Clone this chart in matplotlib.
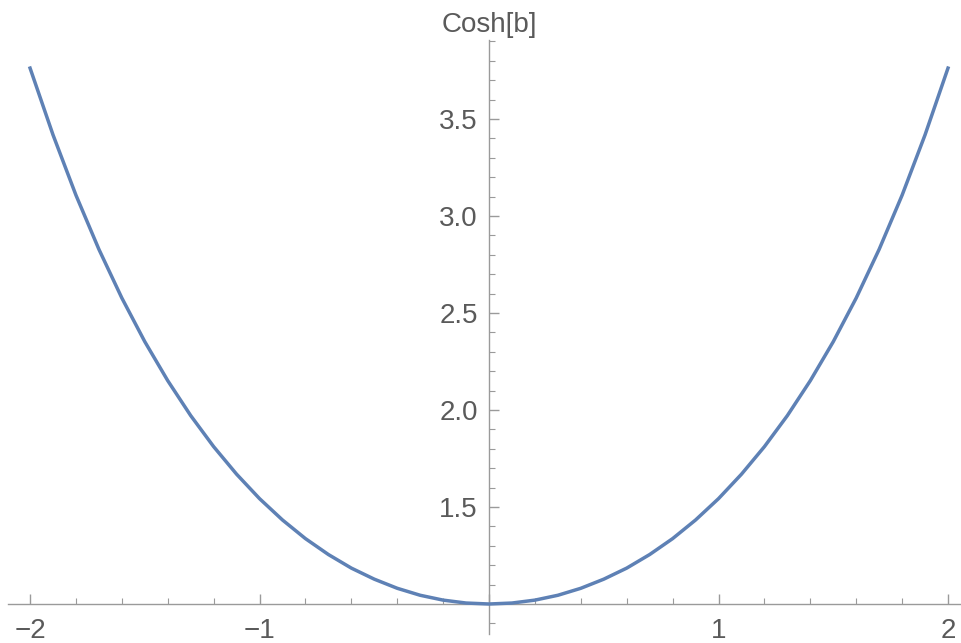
import matplotlib.pyplot as plt
from matplotlib.ticker import FixedLocator

plt.rcParams['font.family'] = ['Liberation Sans', 'DejaVu Sans']

b = [-2.0, -1.9, -1.8, -1.7, -1.6, -1.5, -1.4, -1.3, -1.2, -1.1, -1.0,
     -0.9, -0.8, -0.7, -0.6, -0.5, -0.4, -0.3, -0.2, -0.1, 0.0,
     0.1, 0.2, 0.3, 0.4, 0.5, 0.6, 0.7, 0.8, 0.9, 1.0,
     1.1, 1.2, 1.3, 1.4, 1.5, 1.6, 1.7, 1.8, 1.9, 2.0]
cosh_b = [3.762, 3.418, 3.107, 2.828, 2.577, 2.352, 2.151, 1.971, 1.811, 1.669, 1.543,
          1.433, 1.337, 1.255, 1.185, 1.128, 1.081, 1.045, 1.020, 1.005, 1.000,
          1.005, 1.020, 1.045, 1.081, 1.128, 1.185, 1.255, 1.337, 1.433, 1.543,
          1.669, 1.811, 1.971, 2.151, 2.352, 2.577, 2.828, 3.107, 3.418, 3.762]

x_ticks = [-2, -1, 0, 1, 2]
x_labels = ["\u22122", "\u22121", "", "1", "2"]
y_ticks = [1.5, 2.0, 2.5, 3.0, 3.5]
y_labels = ["1.5", "2.0", "2.5", "3.0", "3.5"]

gris_eje = '#9a9a9a'
gris_texto = '#5a5a5a'

fig = plt.figure(figsize=(9.62, 6.43), dpi=100)
ax = fig.add_axes([0, 0, 1, 1])
ax.patch.set_alpha(0)

ax.plot(b, cosh_b, color='#5E81B5', linewidth=2.5, solid_joinstyle='round', zorder=3)

ax.set_xlim(-2.131, 2.061)
ax.set_ylim(0.799, 4.113)

# ejes cruzando en (0, 1)
for s in ['top', 'right']:
    ax.spines[s].set_visible(False)
ax.spines['left'].set_position(('data', 0))
ax.spines['bottom'].set_position(('data', 1))
ax.spines['left'].set_bounds(0.845, 3.907)
ax.spines['bottom'].set_bounds(-2.096, 2.061)
for s in ['left', 'bottom']:
    ax.spines[s].set_color(gris_eje)
    ax.spines[s].set_linewidth(1.0)

ax.xaxis.set_major_locator(FixedLocator(x_ticks))
ax.set_xticklabels(x_labels)
ax.xaxis.set_minor_locator(FixedLocator([v / 5 for v in range(-10, 11) if v % 5 != 0]))
ax.yaxis.set_major_locator(FixedLocator(y_ticks))
ax.set_yticklabels(y_labels)
menores_y = [round(0.9 + 0.1 * i, 1) for i in range(31)]
menores_y = [v for v in menores_y if v not in (1.0, 1.5, 2.0, 2.5, 3.0, 3.5)]
ax.yaxis.set_minor_locator(FixedLocator(menores_y))

ax.tick_params(axis='both', which='both', direction='in', color=gris_eje,
               labelcolor=gris_texto, labelsize=20)
ax.tick_params(axis='both', which='major', length=7.5, width=1.0)
ax.tick_params(axis='both', which='minor', length=4.5, width=0.8)
ax.tick_params(axis='x', which='major', pad=10)
ax.tick_params(axis='y', which='major', pad=8)

ax.text(0, 3.948, "Cosh[b]", ha='center', va='baseline', fontsize=20, color=gris_texto)

fig.savefig('out.png', dpi=100)
